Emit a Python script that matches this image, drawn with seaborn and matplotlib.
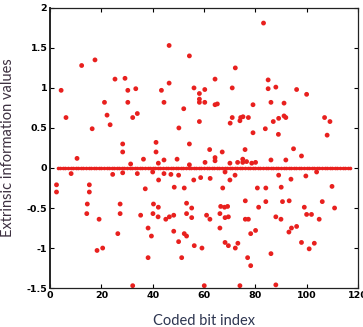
import matplotlib
matplotlib.use("Agg")
import matplotlib.pyplot as plt
import seaborn as sns
import pandas as pd

# scattered extrinsic values (coded bit index, value)
bit_idx = [4.3, 12.3, 17.5, 21.2, 25.3, 29.2, 30.3, 30.3, 33.4, 43.4, 44.4, 46.4, 46.4, 52.1, 54.3,
           56.1, 58.2, 58.2, 58.2, 60.3, 60.3, 64.3, 64.3, 65.2, 71.0, 72.2, 79.1, 83.2, 85.0, 85.0,
           86.1, 88.0, 91.2, 96.1, 100.0,
           6.2, 22.2, 23.4, 16.4, 32.2, 34.0, 28.3, 28.3, 31.4, 24.4, 10.5, 8.2, 2.5, 2.5, 15.3,
           15.3, 14.5, 27.3, 36.4, 34.0, 37.1, 40.3, 42.2, 41.3, 41.3, 42.2, 44.4, 42.3, 44.4, 48.4,
           49.5, 50.2, 54.3, 54.3, 52.3, 50.1, 56.0, 58.2, 58.7, 62.2, 64.3, 64.3, 60.4, 62.4, 67.1,
           67.3, 70.1, 70.1, 68.2, 70.2, 71.0, 74.0, 74.3, 75.2, 77.3, 79.1, 76.0, 75.1, 75.1, 76.6,
           80.1, 80.8, 83.9, 84.1, 86.1, 87.0, 89.1, 91.2, 91.9, 89.0, 90.1, 91.9, 89.1, 94.9, 93.9,
           98.0, 99.7, 103.9, 107.0, 108.0, 109.1, 109.9, 99.1, 110.9, 106.1, 93.2, 90.6, 81.3, 84.1,
           76.1, 68.0, 69.2, 66.5, 55.2, 53.2, 28.3, 40.0, 47.1, 72.1, 73.1, 78.6,
           14.3, 19.1, 27.3, 35.3, 38.2, 39.5, 40.1, 42.1, 45.1, 46.5, 48.2, 48.2, 52.3, 53.2, 50.1,
           51.3, 53.2, 55.2, 56.2, 59.2, 61.0, 62.3, 66.2, 66.2, 68.2, 69.5, 68.2, 69.5, 72.2, 73.2,
           76.1, 77.3, 77.0, 78.2, 78.2, 80.1, 86.1, 88.0, 90.0, 93.1, 94.1, 96.1, 98.0, 100.0, 101.9,
           101.0, 103.0, 104.9, 32.2, 60.1, 74.0, 88.0, 18.3, 20.5, 26.4, 38.2]
extrinsic = [0.97, 1.28, 1.35, 0.82, 1.11, 1.12, 0.97, 0.82, 0.99, 0.97, 0.82, 1.53, 1.06, 0.74, 1.40,
             1.00, 0.93, 0.86, 0.82, 0.98, 0.82, 1.11, 0.79, 0.80, 1.00, 1.25, 0.79, 1.81, 1.10, 0.99,
             0.82, 1.01, 0.81, 0.98, 0.92,
             0.63, 0.66, 0.54, 0.49, 0.63, 0.68, 0.30, 0.20, 0.05, -0.08, 0.12, -0.07, -0.21, -0.30, -0.21,
             -0.30, -0.45, -0.45, 0.11, -0.07, -0.26, -0.45, -0.49, 0.32, 0.20, 0.06, 0.10, -0.15, -0.07, -0.24,
             0.11, 0.50, 0.30, 0.04, -0.25, -0.09, -0.15, 0.58, -0.12, 0.23, 0.13, 0.09, 0.07, -0.13, 0.20,
             -0.25, 0.06, -0.15, -0.05, 0.56, 0.63, 0.59, 0.63, 0.64, 0.63, 0.44, 0.23, 0.11, 0.07, 0.08,
             0.07, -0.25, 0.49, -0.25, 0.10, 0.58, 0.62, 0.65, 0.63, 0.42, -0.24, 0.10, -0.09, 0.24, -0.14,
             0.15, -0.10, -0.05, 0.63, 0.41, 0.58, -0.23, -0.49, -0.50, -0.42, -0.41, -0.42, -0.49, -0.42,
             -0.41, -0.49, -0.48, -0.48, -0.50, -0.44, -0.06, -0.05, -0.08, -0.09, 0.07, 0.06,
             -0.57, -0.64, -0.57, -0.59, -0.75, -0.85, -0.57, -0.61, -0.64, -0.61, -0.59, -0.79, -0.82, -0.85, -0.92,
             -1.12, -0.57, -0.62, -0.97, -1.00, -0.59, -0.64, -0.75, -0.57, -0.93, -0.97, -0.62, -0.61, -1.00, -0.94,
             -0.64, -0.64, -1.12, -1.22, -0.82, -0.78, -1.07, -0.61, -0.64, -0.80, -0.75, -0.73, -0.93, -0.58, -0.58,
             -1.01, -0.94, -0.64, -1.47, -1.47, -1.47, -1.46, -1.03, -1.00, -0.82, -1.12]

# bits whose extrinsic value is zero
zero_idx = list(range(3, 118))
zero_val = [0.0] * len(zero_idx)

x_ticks = [0, 20, 40, 60, 80, 100, 120]
y_ticks = [-1.5, -1, -0.5, 0, 0.5, 1, 1.5, 2]
y_tick_labels = ["-1.5", "-1", "-0.5", "0", "0.5", "1", "1.5", "2"]

sns.set_theme(style="white")
plt.rcParams["font.family"] = ["DejaVu Sans"]

fig = plt.figure(figsize=(3.63, 3.27), dpi=100)
ax = fig.add_axes([0.138, 0.119, 0.848, 0.857])

df_zero = pd.DataFrame({"idx": zero_idx, "val": zero_val})
df_pts = pd.DataFrame({"idx": bit_idx, "val": extrinsic})

sns.lineplot(data=df_zero, x="idx", y="val", ax=ax, color="#e8201e", linewidth=1.8,
             marker="o", markersize=2.6, markeredgewidth=0)
sns.scatterplot(data=df_pts, x="idx", y="val", ax=ax, color="#e8201e", s=12,
                edgecolor="none", linewidth=0)

ax.set_xlim(0, 120)
ax.set_ylim(-1.5, 2)
ax.set_xticks(x_ticks)
ax.set_xticklabels([str(t) for t in x_ticks], fontsize=6.8, fontweight="bold")
ax.set_yticks(y_ticks)
ax.set_yticklabels(y_tick_labels, fontsize=6.8, fontweight="bold")
ax.tick_params(direction="in", length=3, width=0.8, top=True, right=True,
               bottom=True, left=True, pad=2, colors="black")
for s in ax.spines.values():
    s.set_color("#222222")
    s.set_linewidth(0.9)
ax.spines["left"].set_linewidth(1.4)

ax.set_xlabel("Coded bit index", fontsize=10.5, family=["Lato", "DejaVu Sans"],
              color="#2d3550", labelpad=10)
ax.set_ylabel("Extrinsic information values", fontsize=10.5, family=["Lato", "DejaVu Sans"],
              color="#3d3040", labelpad=8)

fig.savefig("out.png", dpi=100)
